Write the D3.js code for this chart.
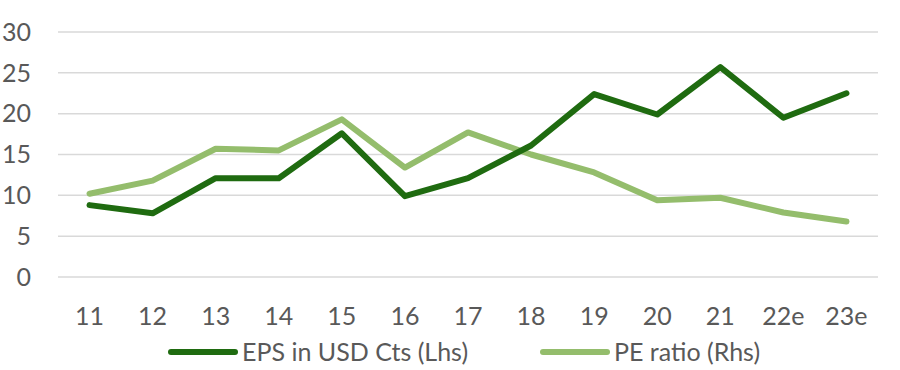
<!DOCTYPE html>
<html>
<head>
<meta charset="utf-8">
<script src="https://cdn.jsdelivr.net/npm/d3@7"></script>
<style>
  body { margin: 0; background: #fff; }
  svg { display: block; font-family: Lato, "Open Sans", sans-serif; }
</style>
</head>
<body>
<svg id="chart"></svg>
<script>
const years = ["11", "12", "13", "14", "15", "16", "17", "18", "19", "20", "21", "22e", "23e"];
const eps = [8.8, 7.8, 12.1, 12.1, 17.6, 9.9, 12.1, 16.1, 22.4, 19.9, 25.7, 19.5, 22.5];
const pe = [10.2, 11.8, 15.7, 15.5, 19.3, 13.4, 17.7, 15.0, 12.8, 9.4, 9.7, 7.9, 6.8];
const yTicks = [0, 5, 10, 15, 20, 25, 30];

const series = [
  { name: "EPS in USD Cts (Lhs)", values: eps, color: "#1f6b10" },
  { name: "PE ratio (Rhs)", values: pe, color: "#94bd6c" }
];

const size = { width: 900, height: 370 };
const margin = { left: 58, right: 22, top: 32, bottom: 93 };
const fontSize = 25;

const svg = d3.select("#chart")
  .attr("width", size.width)
  .attr("height", size.height);

const xScale = d3.scalePoint()
  .domain(years)
  .range([margin.left, size.width - margin.right])
  .padding(0.5);

const yScale = d3.scaleLinear()
  .domain([0, 30])
  .range([size.height - margin.bottom, margin.top]);

// gridlines
svg.append("g")
  .selectAll("line")
  .data(yTicks)
  .join("line")
  .attr("x1", margin.left)
  .attr("x2", size.width - margin.right)
  .attr("y1", d => yScale(d))
  .attr("y2", d => yScale(d))
  .attr("stroke", "#d9d9d9")
  .attr("stroke-width", 1.5);

// y labels
svg.append("g")
  .selectAll("text")
  .data(yTicks)
  .join("text")
  .attr("x", 31)
  .attr("y", d => yScale(d))
  .attr("dy", "0.35em")
  .attr("text-anchor", "end")
  .attr("font-size", fontSize)
  .attr("fill", "#595959")
  .text(d => d);

// x labels
svg.append("g")
  .selectAll("text")
  .data(years)
  .join("text")
  .attr("x", d => xScale(d))
  .attr("y", 325)
  .attr("text-anchor", "middle")
  .attr("font-size", fontSize)
  .attr("fill", "#595959")
  .text(d => d);

const line = d3.line()
  .x((d, i) => xScale(years[i]))
  .y(d => yScale(d));

// light series first, dark one on top
svg.append("g")
  .selectAll("path")
  .data(series.slice().reverse())
  .join("path")
  .attr("d", d => line(d.values))
  .attr("fill", "none")
  .attr("stroke", d => d.color)
  .attr("stroke-width", 6)
  .attr("stroke-linejoin", "round")
  .attr("stroke-linecap", "round");

// legend
const legendX = [171, 543];
const legend = svg.append("g")
  .selectAll("g")
  .data(series)
  .join("g")
  .attr("transform", (d, i) => `translate(${legendX[i]}, 352)`);

legend.append("line")
  .attr("x1", 0)
  .attr("x2", 64)
  .attr("stroke", d => d.color)
  .attr("stroke-width", 6)
  .attr("stroke-linecap", "round");

legend.append("text")
  .attr("x", 71)
  .attr("dy", "0.35em")
  .attr("font-size", fontSize)
  .attr("fill", "#595959")
  .text(d => d.name);
</script>
</body>
</html>
